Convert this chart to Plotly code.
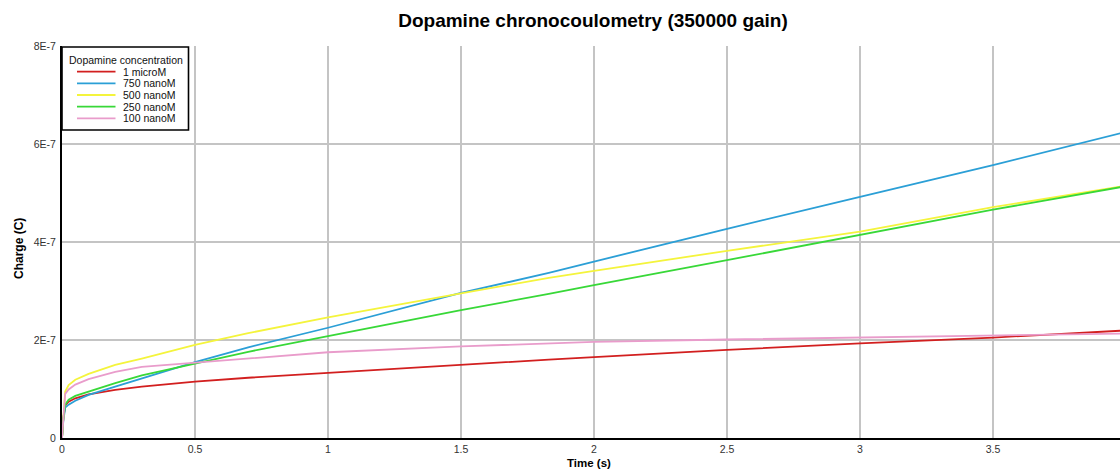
import plotly.graph_objects as go

# Sample times (s)
time_s = [0, 0.005, 0.012, 0.025, 0.05, 0.1, 0.2, 0.3, 0.5, 0.7,
          1.0, 1.5, 1.83, 2.0, 2.5, 3.0, 3.5, 3.98]

# Charge readings (C) per dopamine concentration
q_1_micro = [0, 0.40e-7, 0.66e-7, 0.74e-7, 0.81e-7, 0.89e-7, 0.98e-7, 1.05e-7, 1.15e-7, 1.23e-7,
             1.33e-7, 1.50e-7, 1.60e-7, 1.65e-7, 1.80e-7, 1.93e-7, 2.05e-7, 2.19e-7]
q_750_nano = [0, 0.35e-7, 0.62e-7, 0.68e-7, 0.76e-7, 0.88e-7, 1.05e-7, 1.22e-7, 1.55e-7, 1.85e-7,
              2.25e-7, 2.96e-7, 3.37e-7, 3.60e-7, 4.27e-7, 4.92e-7, 5.57e-7, 6.22e-7]
q_500_nano = [0, 0.50e-7, 0.95e-7, 1.08e-7, 1.19e-7, 1.31e-7, 1.49e-7, 1.62e-7, 1.90e-7, 2.14e-7,
              2.46e-7, 2.95e-7, 3.27e-7, 3.41e-7, 3.82e-7, 4.21e-7, 4.71e-7, 5.13e-7]
q_250_nano = [0, 0.40e-7, 0.68e-7, 0.78e-7, 0.86e-7, 0.95e-7, 1.12e-7, 1.28e-7, 1.52e-7, 1.76e-7,
              2.08e-7, 2.61e-7, 2.94e-7, 3.12e-7, 3.63e-7, 4.15e-7, 4.66e-7, 5.12e-7]
q_100_nano = [0, 0.45e-7, 0.90e-7, 0.99e-7, 1.09e-7, 1.20e-7, 1.35e-7, 1.45e-7, 1.54e-7, 1.63e-7,
              1.75e-7, 1.87e-7, 1.93e-7, 1.96e-7, 2.01e-7, 2.05e-7, 2.08e-7, 2.13e-7]

series_names = ["1 microM", "750 nanoM", "500 nanoM", "250 nanoM", "100 nanoM"]
series_values = [q_1_micro, q_750_nano, q_500_nano, q_250_nano, q_100_nano]
series_colors = ["#d21f1f", "#2b9fd6", "#f4f43c", "#38d838", "#e99ccb"]

y_tick_vals = [0, 2e-7, 4e-7, 6e-7, 8e-7]
y_tick_text = ["0", "2E-7", "4E-7", "6E-7", "8E-7"]
x_tick_vals = [0, 0.5, 1, 1.5, 2, 2.5, 3, 3.5]
x_tick_text = ["0", "0.5", "1", "1.5", "2", "2.5", "3", "3.5"]

W, H = 1120, 469
M_L, M_R, M_T, M_B = 62, 0, 46, 31
PW, PH = W - M_L - M_R, H - M_T - M_B
FONT = "Liberation Sans, Arial, sans-serif"


def px_x(px):
    return (px - M_L) / PW


def px_y(py):
    return (H - M_B - py) / PH


fig = go.Figure()
for name, vals, col in zip(series_names, series_values, series_colors):
    fig.add_trace(go.Scatter(x=time_s, y=vals, mode="lines", name=name,
                             line=dict(color=col, width=1.8), showlegend=False))

# Boxed key in the top-left corner
shapes = [dict(type="rect", xref="paper", yref="paper",
               x0=px_x(62), x1=px_x(188.5), y0=px_y(130), y1=px_y(47),
               line=dict(color="black", width=1.6), fillcolor="white", layer="above")]
annotations = [dict(text="Dopamine concentration", xref="paper", yref="paper",
                    x=px_x(67), y=px_y(60), xanchor="left", yanchor="middle",
                    showarrow=False, font=dict(family=FONT, size=10.5, color="#111"))]
for i, (name, col) in enumerate(zip(series_names, series_colors)):
    cy = 71.7 + i * 11.65
    shapes.append(dict(type="line", xref="paper", yref="paper",
                       x0=px_x(77), x1=px_x(115.5), y0=px_y(cy), y1=px_y(cy),
                       line=dict(color=col, width=1.8), layer="above"))
    annotations.append(dict(text=name, xref="paper", yref="paper",
                            x=px_x(121), y=px_y(cy), xanchor="left", yanchor="middle",
                            showarrow=False, font=dict(family=FONT, size=10.5, color="#111")))

# Axis titles
annotations.append(dict(text="<b>Time (s)</b>", xref="paper", yref="paper",
                        x=px_x(589), y=px_y(463), xanchor="center", yanchor="middle",
                        showarrow=False, font=dict(family=FONT, size=11.5, color="black")))
annotations.append(dict(text="<b>Charge (C)</b>", xref="paper", yref="paper", textangle=-90,
                        x=px_x(19), y=px_y(249), xanchor="center", yanchor="middle",
                        showarrow=False, font=dict(family=FONT, size=12, color="black")))

fig.update_layout(
    width=W, height=H,
    margin=dict(l=M_L, r=M_R, t=M_T, b=M_B),
    paper_bgcolor="white", plot_bgcolor="white",
    font=dict(family=FONT, size=10.5, color="#333"),
    title=dict(text="Dopamine chronocoulometry (350000 gain)",
               font=dict(family=FONT, size=19, color="black", weight="bold"),
               x=593 / W, xanchor="center",
               y=1 - 20 / H, yref="container", yanchor="middle"),
    xaxis=dict(range=[0, (W - M_L) / 266.0], tickvals=x_tick_vals, ticktext=x_tick_text,
               showgrid=True, gridcolor="#c4c4c4", gridwidth=1.6,
               showline=True, linecolor="black", linewidth=2, zeroline=False,
               ticks="", tickfont=dict(size=10.5, color="#333")),
    yaxis=dict(range=[0, 8e-7], tickvals=y_tick_vals, ticktext=y_tick_text,
               showgrid=True, gridcolor="#c4c4c4", gridwidth=1.6,
               showline=True, linecolor="black", linewidth=2, zeroline=False,
               ticks="", ticklabelstandoff=2, tickfont=dict(size=10.5, color="#333")),
    shapes=shapes, annotations=annotations,
)

fig.write_html("out.html")
